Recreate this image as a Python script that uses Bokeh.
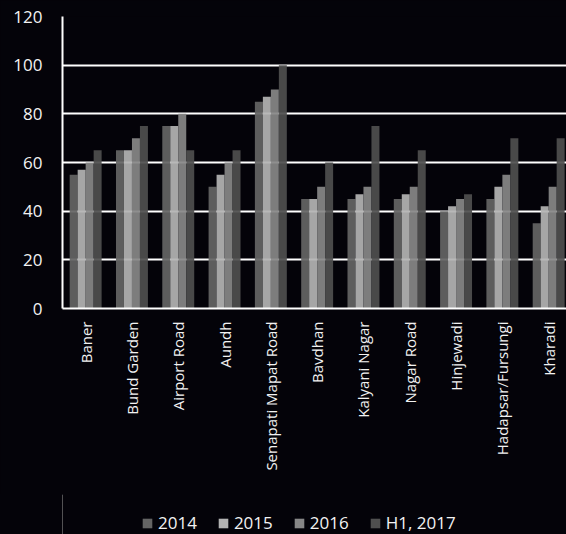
from bokeh.plotting import figure
from bokeh.layouts import column
from bokeh.models import Range1d, FixedTicker, Legend, LegendItem, ColumnDataSource
from bokeh.embed import file_html
from bokeh.resources import INLINE
import math

categories = ["Baner", "Bund Garden", "Airport Road", "Aundh", "Senapati Mapat Road",
              "Bavdhan", "Kalyani Nagar", "Nagar Road", "Hinjewadi", "Hadapsar/Fursungi", "Kharadi"]
series_names = ["2014", "2015", "2016", "H1, 2017"]
v2014 = [55, 65, 75, 50, 85, 45, 45, 45, 40, 45, 35]
v2015 = [57, 65, 75, 55, 87, 45, 47, 47, 42, 50, 42]
v2016 = [60, 70, 80, 60, 90, 50, 50, 50, 45, 55, 50]
vH1_2017 = [65, 75, 65, 65, 100, 60, 75, 65, 47, 70, 70]
y_ticks = [0, 20, 40, 60, 80, 100, 120]

series = [v2014, v2015, v2016, vH1_2017]
colors = ["#646464", "#b3b3b3", "#878787", "#4f4f4f"]

BG = "#040309"
p = figure(frame_width=504, frame_height=292, output_backend="svg", toolbar_location=None,
           x_range=Range1d(0, 10.885), y_range=Range1d(0, 120),
           min_border_left=62, min_border_right=0, min_border_top=16, min_border_bottom=186)
p.background_fill_color = None
p.border_fill_color = BG
p.outline_line_color = None

bw = 0.1725
offsets = [-1.5 * bw, -0.5 * bw, 0.5 * bw, 1.5 * bw]
for name, vals, col, off in zip(series_names, series, colors, offsets):
    src = ColumnDataSource(dict(x=[i + 0.5 + off for i in range(len(categories))], top=vals))
    p.vbar(x="x", top="top", width=bw, bottom=0, source=src, fill_color=col,
           fill_alpha=0.93, line_color=None)

# grid
p.xgrid.grid_line_color = None
p.ygrid.ticker = FixedTicker(ticks=y_ticks)
p.ygrid.grid_line_color = "#ffffff"
p.ygrid.grid_line_width = 2

# y axis
p.yaxis.ticker = FixedTicker(ticks=y_ticks)
p.yaxis.axis_line_color = "#ffffff"
p.yaxis.axis_line_width = 2
p.yaxis.major_tick_line_color = None
p.yaxis.minor_tick_line_color = None
p.yaxis.major_tick_out = 0
p.yaxis.major_label_standoff = 20
p.yaxis.major_label_text_color = "#f2f2f2"
p.yaxis.major_label_text_font = "Open Sans"
p.yaxis.major_label_text_font_size = "17px"

# x axis
p.xaxis.ticker = FixedTicker(ticks=[i + 0.5 for i in range(len(categories))])
p.xaxis.major_label_overrides = {i + 0.5: c for i, c in enumerate(categories)}
p.xaxis.major_label_orientation = math.pi / 2
p.xaxis.axis_line_color = "#ffffff"
p.xaxis.axis_line_width = 2
p.xaxis.major_tick_line_color = None
p.xaxis.minor_tick_line_color = None
p.xaxis.major_tick_out = 0
p.xaxis.major_label_standoff = 13
p.xaxis.major_label_text_color = "#f2f2f2"
p.xaxis.major_label_text_font = "Open Sans"
p.xaxis.major_label_text_font_size = "15px"

# legend strip (proxy renderers kept outside the visible range; only their legend swatches show)
lg = figure(width=566, height=40, output_backend="svg", toolbar_location=None,
            x_axis_type=None, y_axis_type=None, min_border=0,
            x_range=Range1d(0, 1), y_range=Range1d(0, 1))
lg.background_fill_color = None
lg.border_fill_color = None
lg.outline_line_color = None
lg.grid.grid_line_color = None
items = []
for name, col in zip(series_names, colors):
    r = lg.vbar(x=[-10], top=[1], width=0.1, fill_color=col, line_color=None)
    items.append(LegendItem(label=name, renderers=[r]))
legend = Legend(items=items, orientation="horizontal", location=(79, 0),
                background_fill_alpha=0, border_line_color=None,
                glyph_width=12, glyph_height=12, label_standoff=5, spacing=20,
                label_text_color="#f2f2f2", label_text_font="Open Sans",
                label_text_font_size="17px", margin=0, padding=0)
lg.add_layout(legend, "center")

layout = column(p, lg, spacing=0)
layout.background = BG
open("out.html", "w").write(file_html(layout, INLINE))
